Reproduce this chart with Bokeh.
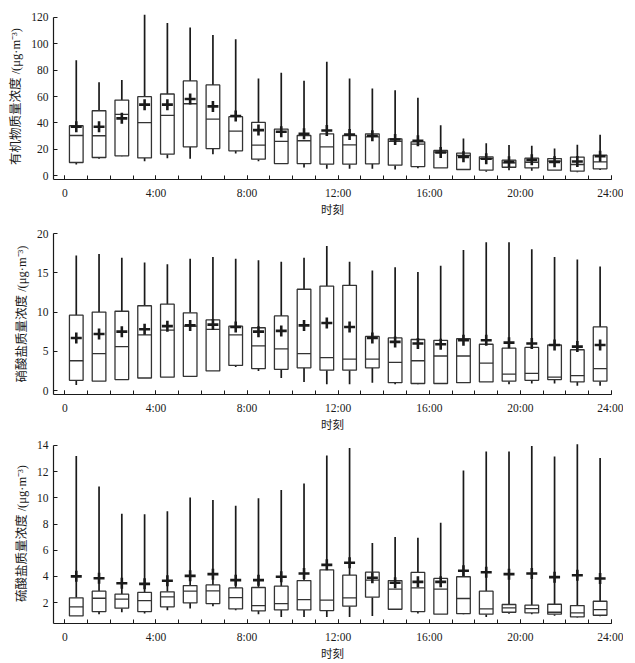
from bokeh.plotting import figure
from bokeh.layouts import column
from bokeh.models import FixedTicker, Range1d, ColumnDataSource
from bokeh.embed import file_html
from bokeh.resources import INLINE

hours = list(range(24))
x_ticks = [0, 4, 8, 12, 16, 20, 24]
x_tick_labels = ["0", "4:00", "8:00", "12:00", "16:00", "20:00", "24:00"]
x_label = "时刻"

# Panel 1: organic matter
org_label = "有机物质量浓度 /(μg·m⁻³)"
org_upper = [87.5, 70.8, 72.6, 122, 115.7, 112.4, 106.6, 103.5, 73.6, 78.1, 72.0, 86.3,
             73.6, 66.0, 64.7, 59.1, 38.1, 28.2, 24.6, 23.1, 22.6, 20.5, 23.3, 31.0]
org_q3 = [37.8, 49.2, 57.3, 59.9, 61.9, 71.8, 68.8, 44.7, 40.3, 35.3, 30.4, 31.7,
          30.4, 31.7, 27.9, 25.6, 19.0, 17.0, 14.2, 11.7, 13.2, 12.9, 14.0, 15.5]
org_median = [30.4, 30.2, 46.4, 40.1, 45.7, 54.5, 42.9, 33.7, 23.1, 25.9, 26.4, 21.8,
              23.3, 29.4, 25.9, 23.8, 17.8, 15.2, 12.9, 9.6, 10.1, 10.9, 8.4, 10.4]
org_q1 = [9.9, 13.7, 15.0, 13.4, 16.2, 21.8, 20.5, 18.8, 12.4, 9.1, 9.1, 8.6,
          8.6, 8.9, 7.9, 6.8, 5.8, 4.6, 4.1, 6.3, 5.8, 4.1, 3.3, 5.1]
org_lower = [8.4, 12.7, 14.7, 10.9, 13.2, 12.7, 16.2, 16.7, 10.9, 9.1, 6.1, 5.1,
             5.1, 5.1, 4.6, 5.6, 5.8, 4.6, 2.8, 4.1, 3.6, 4.1, 2.5, 4.3]
org_mean = [37.0, 37.0, 43.4, 53.8, 53.8, 58.1, 52.5, 45.2, 34.5, 33.2, 31.7, 34.2,
            31.2, 30.2, 27.4, 26.4, 17.5, 14.2, 12.7, 10.4, 11.9, 10.4, 10.7, 14.7]
org_yticks = [0, 20, 40, 60, 80, 100, 120]

# Panel 2: nitrate
nit_label = "硝酸盐质量浓度 /(μg·m⁻³)"
nit_upper = [17.2, 17.4, 16.9, 16.3, 16.1, 16.8, 17.0, 16.8, 16.6, 16.4, 16.9, 18.4,
             16.4, 15.3, 15.7, 15.1, 15.9, 17.9, 18.9, 18.9, 18.0, 17.0, 16.7, 15.8]
nit_q3 = [9.6, 10.0, 10.1, 10.8, 11.0, 9.9, 9.0, 8.2, 8.0, 9.5, 12.9, 13.3,
          13.4, 6.9, 6.7, 6.5, 6.4, 6.6, 5.9, 5.4, 5.5, 5.8, 5.2, 8.1]
nit_median = [3.8, 4.7, 5.6, 7.1, 7.7, 8.2, 7.8, 7.1, 5.7, 5.3, 4.7, 4.2,
              4.0, 4.0, 3.6, 3.8, 4.4, 4.4, 3.5, 2.1, 2.2, 1.7, 1.9, 2.8]
nit_q1 = [1.3, 1.2, 1.4, 1.6, 1.7, 1.8, 2.5, 3.2, 2.8, 2.7, 2.9, 2.6,
          2.6, 2.9, 1.0, 0.9, 0.9, 1.0, 1.1, 1.2, 1.3, 1.4, 1.1, 1.2]
nit_lower = [0.7, 1.2, 1.4, 1.6, 1.7, 1.8, 2.5, 3.0, 2.5, 1.6, 1.1, 0.8,
             0.8, 1.0, 0.8, 0.8, 0.9, 1.0, 1.1, 0.8, 0.9, 0.9, 0.6, 0.6]
nit_mean = [6.7, 7.2, 7.5, 7.8, 8.2, 8.3, 8.4, 8.1, 7.5, 7.6, 8.3, 8.6,
            8.1, 6.7, 6.2, 6.0, 5.9, 6.4, 6.4, 6.1, 6.0, 5.8, 5.6, 5.8]
nit_yticks = [0, 5, 10, 15, 20]

# Panel 3: sulfate
sul_label = "硫酸盐质量浓度 /(μg·m⁻³)"
sul_upper = [13.2, 10.86, 8.79, 8.74, 8.97, 10.02, 9.84, 9.40, 9.96, 10.6, 11.1, 13.23,
             13.8, 6.54, 7.0, 6.95, 8.10, 12.08, 13.54, 13.54, 13.95, 13.16, 14.1, 13.05]
sul_q3 = [2.36, 2.87, 2.64, 2.77, 2.82, 3.30, 3.35, 3.12, 3.15, 3.25, 3.68, 4.50,
          4.09, 4.32, 3.68, 4.30, 3.84, 3.97, 2.87, 1.85, 1.80, 1.87, 1.77, 2.10]
sul_median = [1.67, 2.33, 2.26, 2.15, 2.43, 2.87, 2.89, 2.38, 1.77, 1.92, 2.23, 2.18,
              2.36, 3.71, 3.02, 3.12, 3.02, 2.31, 1.51, 1.59, 1.54, 1.26, 1.21, 1.46]
sul_q1 = [0.98, 1.31, 1.57, 1.31, 1.67, 1.97, 1.92, 1.51, 1.36, 1.44, 1.44, 1.39,
          1.72, 2.41, 1.49, 1.31, 1.11, 1.16, 1.11, 1.26, 1.21, 1.11, 0.90, 1.03]
sul_lower = [0.98, 1.10, 1.26, 1.16, 1.41, 1.54, 1.72, 1.41, 1.11, 0.90, 0.90, 0.90,
             0.90, 0.98, 1.49, 1.16, 1.11, 1.11, 0.90, 1.15, 1.10, 1.00, 0.85, 0.95]
sul_mean = [4.0, 3.86, 3.48, 3.43, 3.66, 4.04, 4.17, 3.71, 3.71, 3.97, 4.22, 4.88,
            5.04, 3.89, 3.51, 3.58, 3.58, 4.43, 4.32, 4.17, 4.22, 3.94, 4.09, 3.84]
sul_yticks = [2, 4, 6, 8, 10, 12, 14]

SERIF = "Liberation Serif"
LABEL_FONT = "'Liberation Serif', 'Noto Sans CJK SC', serif"
INK = "#1a1a1a"
BOX_W = 0.6


def panel(label, upper, q3, median, q1, lower, mean, yticks, yr, ybounds,
          frame_h, top_b, bottom_b):
    xs = [h + 0.5 for h in hours]
    src = ColumnDataSource(dict(
        x=xs, x0=[x - BOX_W / 2 for x in xs], x1=[x + BOX_W / 2 for x in xs],
        upper=upper, q3=q3, median=median, q1=q1, lower=lower, mean=mean))
    p = figure(frame_width=558, frame_height=frame_h,
               x_range=Range1d(-0.5, 24), y_range=Range1d(*yr),
               output_backend="svg", toolbar_location=None,
               min_border_left=53, min_border_right=12,
               min_border_top=top_b, min_border_bottom=bottom_b)
    p.outline_line_color = None
    p.xgrid.visible = False
    p.ygrid.visible = False
    p.background_fill_color = "white"
    p.border_fill_color = "white"

    p.segment(x0="x", y0="q3", x1="x", y1="upper", source=src,
              line_color=INK, line_width=1.7)
    p.segment(x0="x", y0="q1", x1="x", y1="lower", source=src,
              line_color=INK, line_width=1.7)
    p.vbar(x="x", width=BOX_W, top="q3", bottom="q1", source=src,
           fill_color="white", line_color="#333333", line_width=1.3)
    p.segment(x0="x0", y0="median", x1="x1", y1="median", source=src,
              line_color="#333333", line_width=1.3)
    p.scatter(x="x", y="mean", source=src, marker="cross", size=11,
              line_color=INK, line_width=2.6)

    xa = p.xaxis[0]
    xa.ticker = FixedTicker(ticks=x_ticks, minor_ticks=list(range(25)))
    xa.major_label_overrides = {t: l for t, l in zip(x_ticks, x_tick_labels)}
    xa.bounds = (-0.5, 24)
    xa.axis_label = x_label
    ya = p.yaxis[0]
    ya.ticker = FixedTicker(ticks=yticks)
    ya.bounds = ybounds
    ya.axis_label = label
    for ax in (xa, ya):
        ax.axis_line_color = INK
        ax.axis_line_width = 1.2
        ax.major_tick_line_color = INK
        ax.minor_tick_line_color = INK
        ax.major_tick_in = 4
        ax.major_tick_out = 0
        ax.minor_tick_in = 4
        ax.minor_tick_out = 0
        ax.major_label_text_font = SERIF
        ax.major_label_text_font_size = "11.5px"
        ax.major_label_text_color = INK
        ax.axis_label_text_font = LABEL_FONT
        ax.axis_label_text_font_style = "normal"
        ax.axis_label_text_color = INK
    xa.axis_label_text_font_size = "11.5px"
    ya.axis_label_text_font_size = "12.5px"
    xa.major_label_standoff = 7
    xa.axis_label_standoff = 2
    ya.major_label_standoff = 5
    ya.axis_label_standoff = 5
    return p


p1 = panel(org_label, org_upper, org_q3, org_median, org_q1, org_lower, org_mean,
           org_yticks, (-3, 123), (-3, 120), 166, 13, 40)
p2 = panel(nit_label, nit_upper, nit_q3, nit_median, nit_q1, nit_lower, nit_mean,
           nit_yticks, (-0.5, 20), (-0.5, 20), 161, 14, 38)
p3 = panel(sul_label, sul_upper, sul_q3, sul_median, sul_q1, sul_lower, sul_mean,
           sul_yticks, (0.4, 14.15), (0.4, 14), 180, 10, 30)

layout = column(p1, p2, p3, spacing=0)
open("out.html", "w").write(file_html(layout, INLINE))
